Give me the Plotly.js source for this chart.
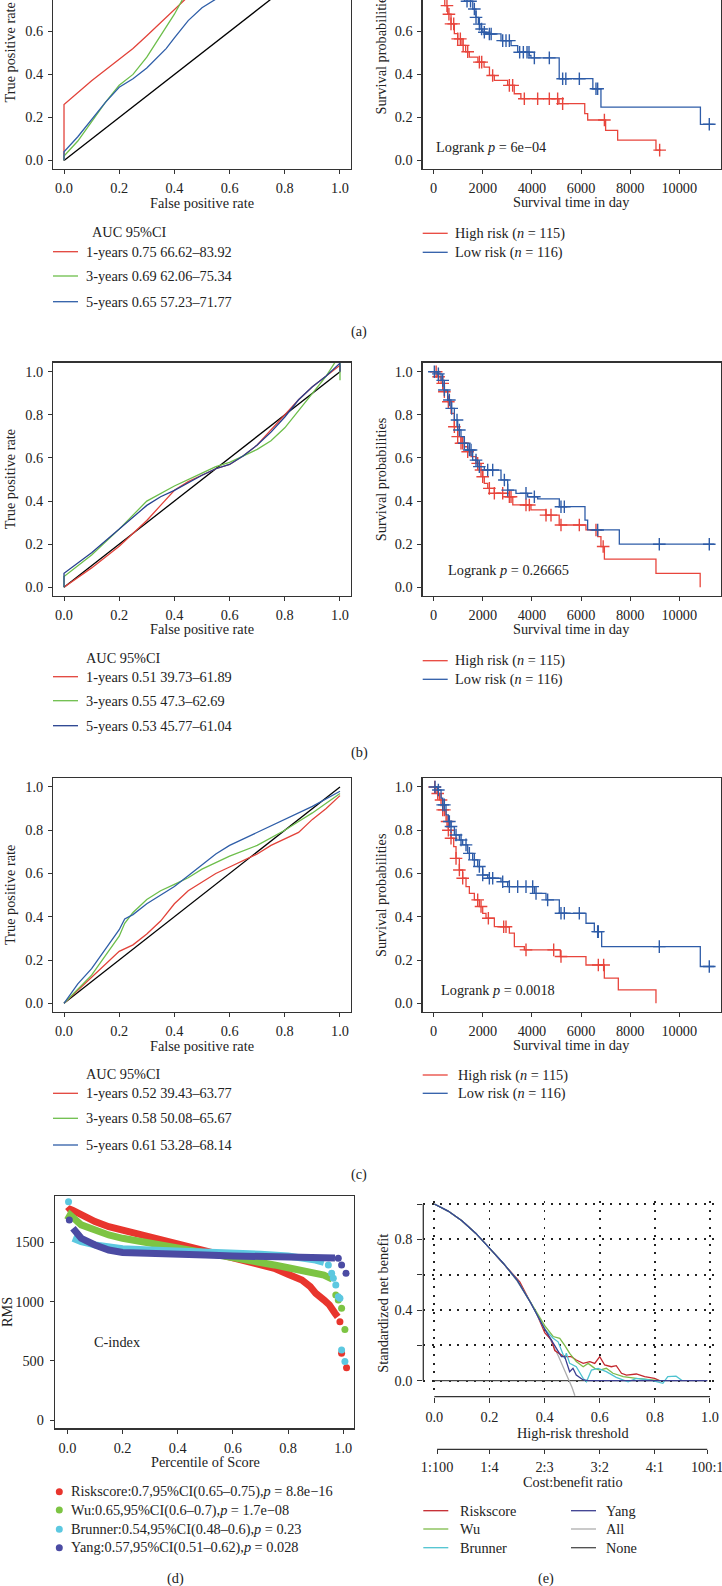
<!DOCTYPE html>
<html><head><meta charset="utf-8">
<script src="https://cdn.plot.ly/plotly-3.0.1.min.js"></script>
<style>body{margin:0;background:#fff}#chart{width:722px;height:1586px}</style>
</head><body><div id="chart"></div><script>
// ---------------- DATA ----------------
const rocTickVals = [0,0.2,0.4,0.6,0.8,1.0];
const rocTickText = ['0.0','0.2','0.4','0.6','0.8','1.0'];
const rocDiagX = [0,1], rocDiagY = [0,1];
const rocLegendTitle = 'AUC 95%CI';

// (a) ROC
const rocA1_fpr = [0,0,0.1,0.2,0.25,0.3,0.35,0.4,0.44,0.5,0.6,0.7,0.8,0.9,1.0];
const rocA1_tpr = [0,0.26,0.37,0.47,0.52,0.58,0.64,0.70,0.75,0.79,0.85,0.90,0.94,0.97,1.0];
const rocA3_fpr = [0,0,0.05,0.1,0.15,0.2,0.25,0.3,0.35,0.4,0.43,0.5,0.6,0.7,0.8,0.9,1.0];
const rocA3_tpr = [0,0.02,0.09,0.18,0.27,0.35,0.40,0.48,0.58,0.68,0.75,0.82,0.88,0.92,0.95,0.98,1.0];
const rocA5_fpr = [0,0,0.05,0.1,0.15,0.2,0.25,0.3,0.33,0.37,0.4,0.45,0.5,0.55,0.6,0.7,0.8,0.9,1.0];
const rocA5_tpr = [0,0.04,0.11,0.19,0.27,0.34,0.38,0.43,0.47,0.52,0.57,0.65,0.71,0.75,0.79,0.85,0.91,0.96,1.0];
const rocA_names = ['1-years 0.75 66.62–83.92','3-years 0.69 62.06–75.34','5-years 0.65 57.23–71.77'];

// (b) ROC
const rocB1_fpr = [0,0.1,0.2,0.3,0.35,0.4,0.45,0.5,0.55,0.6,0.65,0.7,0.75,0.8,0.85,0.9,0.95,1.0,1.0];
const rocB1_tpr = [0,0.09,0.19,0.31,0.38,0.45,0.49,0.52,0.55,0.57,0.61,0.66,0.73,0.80,0.87,0.93,0.98,1.03,1.0];
const rocB3_fpr = [0,0,0.1,0.2,0.3,0.4,0.5,0.55,0.6,0.7,0.75,0.8,0.85,0.9,0.95,1.0,1.0];
const rocB3_tpr = [0,0.05,0.15,0.27,0.40,0.47,0.53,0.56,0.58,0.64,0.68,0.74,0.82,0.90,0.98,1.08,0.96];
const rocB5_fpr = [0,0,0.1,0.2,0.3,0.35,0.4,0.5,0.55,0.6,0.65,0.7,0.75,0.8,0.85,0.9,0.95,1.0,1.0];
const rocB5_tpr = [0,0.065,0.16,0.27,0.38,0.42,0.45,0.52,0.55,0.57,0.61,0.66,0.72,0.79,0.87,0.93,0.98,1.04,1.0];
const rocB_names = ['1-years 0.51 39.73–61.89','3-years 0.55 47.3–62.69','5-years 0.53 45.77–61.04'];

// (c) ROC
const rocC1_fpr = [0,0.1,0.17,0.2,0.25,0.3,0.35,0.4,0.45,0.5,0.55,0.6,0.7,0.75,0.8,0.85,0.9,0.95,1.0];
const rocC1_tpr = [0,0.12,0.20,0.24,0.27,0.32,0.38,0.46,0.52,0.56,0.60,0.63,0.69,0.73,0.76,0.79,0.85,0.90,0.96];
const rocC3_fpr = [0,0.1,0.15,0.2,0.22,0.25,0.3,0.35,0.4,0.45,0.5,0.55,0.6,0.7,0.8,0.85,0.9,1.0];
const rocC3_tpr = [0,0.13,0.22,0.31,0.37,0.42,0.48,0.52,0.55,0.58,0.62,0.65,0.68,0.73,0.80,0.84,0.88,0.97];
const rocC5_fpr = [0,0.05,0.1,0.15,0.2,0.22,0.25,0.3,0.35,0.4,0.45,0.5,0.55,0.6,0.7,0.8,0.9,1.0];
const rocC5_tpr = [0,0.09,0.16,0.25,0.34,0.39,0.41,0.46,0.50,0.54,0.59,0.64,0.69,0.73,0.79,0.85,0.91,0.98];
const rocC_names = ['1-years 0.52 39.43–63.77','3-years 0.58 50.08–65.67','5-years 0.61 53.28–68.14'];

// Kaplan-Meier
const kmTickVals = [0,2000,4000,6000,8000,10000];
const kmGroupNames = ['High risk (<i>n</i> = 115)','Low risk (<i>n</i> = 116)'];

const kmA_high_t = [0,60,120,180,240,300,360,450,570,705,840,977,1150,1300,1450,1800,2050,2270,2470,3010,3280,3550,5100,6150,6270,7000,7490,9050,9250];
const kmA_high_s = [1,0.98,0.95,0.91,0.86,0.80,0.76,0.72,0.68,0.635,0.59,0.565,0.535,0.505,0.48,0.457,0.434,0.395,0.372,0.349,0.31,0.287,0.264,0.218,0.188,0.14,0.094,0.048,0.048];
const kmA_high_cens = [540,620,705,815,977,1085,1200,1384,1860,1955,2400,3080,3215,3690,4233,4708,5047,5250,6950,9200];
const kmA_low_t = [0,100,200,300,400,500,600,700,800,900,1000,1100,1250,1590,1720,1820,1930,2000,2130,2740,3150,3420,3890,3960,5110,6480,6810,10860,11400];
const kmA_low_s = [1,0.99,0.97,0.95,0.93,0.91,0.89,0.86,0.84,0.81,0.79,0.77,0.74,0.704,0.665,0.634,0.611,0.596,0.588,0.557,0.534,0.503,0.488,0.477,0.38,0.333,0.248,0.168,0.168];
const kmA_low_cens = [1357,1500,1655,1723,1860,1950,2062,2266,2340,2809,2944,3080,3500,3650,3800,3880,4098,4708,5251,5380,5930,6608,6676,11221];
const kmA_p = 'Logrank <i>p</i> = 6e−04';

const kmB_high_t = [0,160,300,430,570,705,840,977,1110,1250,1380,1520,1720,1860,1995,2060,2200,2470,3010,3220,3960,4570,5110,6200,6680,6810,6950,9050,10850];
const kmB_high_s = [1,0.977,0.946,0.907,0.861,0.807,0.745,0.699,0.668,0.652,0.629,0.606,0.575,0.544,0.513,0.482,0.459,0.436,0.42,0.382,0.359,0.335,0.289,0.266,0.235,0.189,0.131,0.065,0.0];
const kmB_high_cens = [100,200,366,434,597,841,977,1112,1180,1384,1791,1927,1995,2266,2470,2809,3080,3148,3758,3894,4573,4776,5183,5929,6608,6900];
const kmB_low_t = [0,163,300,434,570,705,841,977,1112,1248,1384,1587,1791,2062,2740,3012,3350,3826,4233,5115,6160,6268,7558,11425];
const kmB_low_s = [1,0.99,0.96,0.915,0.869,0.83,0.776,0.73,0.699,0.668,0.637,0.59,0.56,0.544,0.498,0.451,0.436,0.42,0.41,0.374,0.312,0.266,0.2,0.2];
const kmB_low_cens = [27,190,366,434,638,733,950,1045,1248,1452,1520,1723,1859,2198,2402,2877,3012,3758,4098,5183,5319,6676,9186,11221];
const kmB_p = 'Logrank <i>p</i> = 0.26665';

const kmC_high_t = [0,95,231,366,502,597,705,814,909,1045,1180,1316,1452,1655,1859,1995,2130,2470,3080,3284,3690,5156,6200,6947,7517,9050];
const kmC_high_s = [1,0.97,0.94,0.894,0.84,0.80,0.763,0.724,0.67,0.616,0.578,0.539,0.508,0.478,0.447,0.416,0.393,0.354,0.324,0.262,0.247,0.216,0.177,0.116,0.062,0.0];
const kmC_high_cens = [40,163,299,366,434,543,597,705,909,1045,1180,1791,1927,2225,2849,2944,3758,4885,5183,6703,6920];
const kmC_low_t = [0,163,299,366,502,597,705,841,1045,1180,1384,1587,1791,1995,2198,2741,3012,4098,4573,5115,6201,6540,6839,10855,11425];
const kmC_low_s = [1,0.986,0.948,0.917,0.871,0.84,0.817,0.778,0.755,0.732,0.693,0.663,0.632,0.593,0.578,0.562,0.539,0.508,0.478,0.416,0.37,0.331,0.262,0.17,0.17];
const kmC_low_cens = [54,190,366,434,638,705,909,1113,1316,1452,1655,1859,1995,2266,2402,2809,3080,3419,3758,4030,4166,4640,5183,5319,5929,6676,6703,9186,11221];
const kmC_p = 'Logrank <i>p</i> = 0.0018';

// (d) RMS vs percentile of score
const rmsTickVals = [0,500,1000,1500];
const rmsNames = ['Riskscore:0.7,95%CI(0.65–0.75),<i>p</i> = 8.8e−16','Wu:0.65,95%CI(0.6–0.7),<i>p</i> = 1.7e−08','Brunner:0.54,95%CI(0.48–0.6),<i>p</i> = 0.23','Yang:0.57,95%CI(0.51–0.62),<i>p</i> = 0.028'];
const rmsRisk_pct = [0.0,0.01,0.02,0.05,0.1,0.15,0.2,0.25,0.3,0.35,0.4,0.45,0.5,0.55,0.6,0.65,0.7,0.75,0.8,0.85,0.88,0.9,0.93,0.95,0.97,0.98];
const rmsRisk_val = [1759,1779,1770,1731,1675,1632,1604,1576,1548,1520,1492,1458,1430,1393,1365,1337,1309,1281,1230,1182,1126,1070,1013,971,901,870];
const rmsRisk_tailPct = [0.988,0.994,1.012];
const rmsRisk_tailVal = [830,563,442];
const rmsWu_pct = [0.0,0.01,0.05,0.1,0.15,0.2,0.25,0.3,0.35,0.4,0.45,0.5,0.55,0.6,0.65,0.7,0.75,0.8,0.85,0.9,0.93,0.96];
const rmsWu_val = [1689,1731,1647,1604,1562,1534,1514,1492,1469,1449,1435,1421,1402,1379,1357,1328,1309,1285,1262,1238,1224,1190];
const rmsWu_tailPct = [0.973,0.982,0.994,1.006];
const rmsWu_tailVal = [1055,1013,943,765];
const rmsBr_pct = [0.02,0.05,0.1,0.15,0.2,0.3,0.4,0.5,0.6,0.7,0.8,0.85,0.9,0.93];
const rmsBr_val = [1534,1506,1478,1455,1445,1435,1428,1420,1410,1400,1385,1370,1350,1330];
const rmsBr_tailPct = [0.004,0.946,0.958,0.964,0.973,0.982,0.988,0.994,1.006];
const rmsBr_tailVal = [1843,1309,1238,1196,1140,1041,1027,591,493];
const rmsYa_pct = [0.02,0.05,0.1,0.15,0.2,0.3,0.4,0.5,0.6,0.7,0.8,0.9,0.95,0.97];
const rmsYa_val = [1618,1534,1478,1435,1415,1403,1397,1392,1385,1380,1377,1375,1373,1368];
const rmsYa_tailPct = [0.007,0.982,0.994,1.01];
const rmsYa_tailVal = [1689,1365,1309,1238];

// (e) decision curve
const dcaTickVals = [0,0.2,0.4,0.6,0.8,1.0];
const dcaYTickText = ['0.0','','0.4','','0.8',''];
const cbTickVals = [0.01,0.2,0.4,0.6,0.8,0.99];
const cbTickText = ['1:100','1:4','2:3','3:2','4:1','100:1'];
const dcaNames = ['Riskscore','Wu','Brunner','Yang','All','None'];
const dcaRisk_thr = [0,0.05,0.1,0.15,0.2,0.25,0.3,0.31,0.35,0.371,0.401,0.425,0.437,0.462,0.479,0.497,0.515,0.54,0.564,0.582,0.6,0.618,0.642,0.66,0.679,0.697,0.733,0.763,0.799,0.817];
const dcaRisk_nb  = [1,0.96,0.905,0.835,0.75,0.665,0.58,0.56,0.44,0.38,0.27,0.23,0.17,0.145,0.136,0.136,0.117,0.098,0.108,0.098,0.136,0.089,0.079,0.085,0.042,0.032,0.038,0.023,0.013,0];
const dcaWu_thr = [0,0.05,0.1,0.15,0.2,0.25,0.3,0.35,0.401,0.431,0.455,0.473,0.491,0.515,0.54,0.558,0.582,0.6,0.624,0.648,0.685,0.733,0.781,0.817];
const dcaWu_nb  = [1,0.96,0.905,0.835,0.75,0.665,0.57,0.44,0.31,0.25,0.24,0.20,0.155,0.108,0.079,0.098,0.07,0.06,0.07,0.042,0.023,0.013,0.008,0];
const dcaBr_thr = [0,0.05,0.1,0.15,0.2,0.25,0.3,0.35,0.401,0.431,0.449,0.461,0.473,0.479,0.491,0.515,0.54,0.552,0.57,0.594,0.624,0.66,0.703,0.733,0.781,0.829,0.847,0.877,0.895,0.9];
const dcaBr_nb  = [1,0.96,0.905,0.835,0.75,0.665,0.57,0.44,0.29,0.24,0.22,0.17,0.126,0.155,0.098,0.079,0.013,-0.006,0.06,0.07,0.051,0.019,-0.006,0.013,0.004,-0.015,0.023,0.026,0.004,0];
const dcaYa_thr = [0,0.05,0.1,0.15,0.2,0.25,0.3,0.35,0.401,0.443,0.461,0.473,0.491,0.503,0.515,0.54,0.558,0.99];
const dcaYa_nb  = [1,0.96,0.905,0.835,0.75,0.665,0.57,0.44,0.29,0.18,0.136,0.136,0.051,0.07,0.032,0.004,0,0];
const dcaAll_thr = [0,0.05,0.1,0.15,0.2,0.25,0.3,0.35,0.4,0.45,0.5,0.51];
const dcaAll_nb  = [1,0.96,0.905,0.835,0.75,0.665,0.565,0.44,0.30,0.14,-0.04,-0.085];
const dcaNone_thr = [0,0.99];
const dcaNone_nb  = [0,0];

// ---------------- LAYOUT HELPERS ----------------
const W = 722, H = 1586;
const FF = '"Liberation Serif","Times New Roman",serif';
const FS = 14.3;
const FONT = {family: FF, size: FS, color: '#222'};
const dx = (a, b) => [a / W, Math.min(1, b / W)];
const dy = (t, b) => [1 - b / H, Math.min(1, 1 - t / H)];
const px = v => v / W, py = v => 1 - v / H;

function ax(o) {
  return Object.assign({
    showgrid: false, zeroline: false, showline: true, linecolor: '#333', linewidth: 1.3,
    ticks: 'outside', ticklen: 4, tickwidth: 1, tickcolor: '#333', tickfont: FONT,
    fixedrange: true, mirror: true, ticklabelstandoff: 2, ticklabeloverflow: 'allow'
  }, o);
}

const RED = '#E2433A', GREEN = '#6DBE4B', BLUE = '#2F5EA8', NAVY = '#26418F';
const KRED = '#E8453C', KBLUE = '#2E5CA8';
const RMS_COLORS = ['#E8352D', '#7DC443', '#5CC8E0', '#4B4BA3'];
const DCA_COLORS = ['#C4282E', '#7DBB4A', '#4EC3D0', '#3B3E90', '#AEAEAE', '#4A4A4A'];

const traces = [];
function roc(curves, colors, xa, ya) {
  traces.push({x: rocDiagX, y: rocDiagY, mode: 'lines', line: {color: '#000', width: 1.3}, xaxis: xa, yaxis: ya});
  curves.forEach((c, i) => traces.push({x: c[0], y: c[1], mode: 'lines', line: {color: colors[i], width: 1.3}, xaxis: xa, yaxis: ya}));
}
function stepAt(ts, ss, t) { let v = ss[0]; for (let i = 0; i < ts.length; i++) if (ts[i] <= t) v = ss[i]; return v; }
function km(ts, ss, cens, color, xa, ya) {
  traces.push({x: ts, y: ss, mode: 'lines', line: {shape: 'hv', color: color, width: 1.3}, xaxis: xa, yaxis: ya});
  traces.push({x: cens, y: cens.map(t => stepAt(ts, ss, t)), mode: 'markers', xaxis: xa, yaxis: ya,
    marker: {symbol: 'cross-thin', size: 9, color: color, line: {width: 1.4, color: color}}});
}

roc([[rocA1_fpr, rocA1_tpr], [rocA3_fpr, rocA3_tpr], [rocA5_fpr, rocA5_tpr]], [RED, GREEN, BLUE], 'x', 'y');
km(kmA_high_t, kmA_high_s, kmA_high_cens, KRED, 'x2', 'y2');
km(kmA_low_t, kmA_low_s, kmA_low_cens, KBLUE, 'x2', 'y2');
roc([[rocB1_fpr, rocB1_tpr], [rocB3_fpr, rocB3_tpr], [rocB5_fpr, rocB5_tpr]], [RED, GREEN, NAVY], 'x3', 'y3');
km(kmB_high_t, kmB_high_s, kmB_high_cens, KRED, 'x4', 'y4');
km(kmB_low_t, kmB_low_s, kmB_low_cens, KBLUE, 'x4', 'y4');
roc([[rocC1_fpr, rocC1_tpr], [rocC3_fpr, rocC3_tpr], [rocC5_fpr, rocC5_tpr]], [RED, GREEN, BLUE], 'x5', 'y5');
km(kmC_high_t, kmC_high_s, kmC_high_cens, KRED, 'x6', 'y6');
km(kmC_low_t, kmC_low_s, kmC_low_cens, KBLUE, 'x6', 'y6');

// (d)
const rmsSeries = [
  [rmsRisk_pct, rmsRisk_val, rmsRisk_tailPct, rmsRisk_tailVal],
  [rmsWu_pct, rmsWu_val, rmsWu_tailPct, rmsWu_tailVal],
  [rmsBr_pct, rmsBr_val, rmsBr_tailPct, rmsBr_tailVal],
  [rmsYa_pct, rmsYa_val, rmsYa_tailPct, rmsYa_tailVal]
];
rmsSeries.forEach((s, i) => {
  traces.push({x: s[0], y: s[1], mode: 'lines', line: {color: RMS_COLORS[i], width: 7}, xaxis: 'x7', yaxis: 'y7'});
  traces.push({x: s[2], y: s[3], mode: 'markers', marker: {color: RMS_COLORS[i], size: 7}, xaxis: 'x7', yaxis: 'y7'});
});

// (e) drawn None, All, then models, Yang last
const dcaSeries = [[dcaRisk_thr, dcaRisk_nb], [dcaWu_thr, dcaWu_nb], [dcaBr_thr, dcaBr_nb], [dcaYa_thr, dcaYa_nb], [dcaAll_thr, dcaAll_nb], [dcaNone_thr, dcaNone_nb]];
[5, 4, 0, 1, 2, 3].forEach(i => traces.push({x: dcaSeries[i][0], y: dcaSeries[i][1], mode: 'lines', line: {color: DCA_COLORS[i], width: 1.3}, xaxis: 'x8', yaxis: 'y8'}));
traces.push({x: [], y: [], xaxis: 'x9', yaxis: 'y8', mode: 'lines'});
traces.forEach(t => { t.showlegend = false; t.hoverinfo = 'skip'; });

// ---------------- AXES ----------------
const rocX = [-0.0388, 1.0399];
const kmX = [-448, 11698];
const layout = {
  width: W, height: H, margin: {l: 0, r: 0, t: 0, b: 0}, paper_bgcolor: '#fff', plot_bgcolor: 'rgba(0,0,0,0)',
  font: FONT, showlegend: false, hovermode: false,
  xaxis:  ax({domain: dx(53.3, 351), range: rocX, tickvals: rocTickVals, ticktext: rocTickText, anchor: 'y', mirror: false}),
  yaxis:  ax({domain: dy(0, 169), range: [-0.04, 0.746], tickvals: rocTickVals, ticktext: rocTickText, anchor: 'x'}),
  xaxis2: ax({domain: dx(422.7, 721), range: kmX, tickvals: kmTickVals, tickformat: 'd', anchor: 'y2', mirror: false}),
  yaxis2: ax({domain: dy(0, 169), range: [-0.04, 0.746], tickvals: rocTickVals, ticktext: rocTickText, anchor: 'x2'}),
  xaxis3: ax({domain: dx(53.3, 351), range: rocX, tickvals: rocTickVals, ticktext: rocTickText, anchor: 'y3'}),
  yaxis3: ax({domain: dy(362.7, 595.7), range: [-0.039, 1.042], tickvals: rocTickVals, ticktext: rocTickText, anchor: 'x3'}),
  xaxis4: ax({domain: dx(422.7, 721), range: kmX, tickvals: kmTickVals, tickformat: 'd', anchor: 'y4'}),
  yaxis4: ax({domain: dy(362.7, 595.7), range: [-0.039, 1.042], tickvals: rocTickVals, ticktext: rocTickText, anchor: 'x4'}),
  xaxis5: ax({domain: dx(53.3, 351), range: rocX, tickvals: rocTickVals, ticktext: rocTickText, anchor: 'y5'}),
  yaxis5: ax({domain: dy(778.3, 1011.7), range: [-0.039, 1.040], tickvals: rocTickVals, ticktext: rocTickText, anchor: 'x5'}),
  xaxis6: ax({domain: dx(422.7, 721), range: kmX, tickvals: kmTickVals, tickformat: 'd', anchor: 'y6'}),
  yaxis6: ax({domain: dy(778.3, 1011.7), range: [-0.039, 1.040], tickvals: rocTickVals, ticktext: rocTickText, anchor: 'x6'}),
  xaxis7: ax({domain: dx(55, 354), range: [-0.045, 1.039], tickvals: rocTickVals, ticktext: rocTickText, anchor: 'y7'}),
  yaxis7: ax({domain: dy(1196, 1428.3), range: [-70, 1891], tickvals: rmsTickVals, anchor: 'x7', ticklabelstandoff: 3}),
  xaxis8: ax({domain: dx(423.3, 721), range: [-0.04, 1.04], tickvals: dcaTickVals, ticktext: rocTickText, anchor: 'y8', showline: false, mirror: false,
    ticklen: 5, ticklabelstandoff: 2, showgrid: true, griddash: '2px,6.5px', gridcolor: '#222', gridwidth: 1.8}),
  yaxis8: ax({domain: dy(1201, 1396.7), range: [-0.0906, 1.017], tickvals: dcaTickVals, ticktext: dcaYTickText, anchor: 'x8', showline: false, mirror: false,
    ticklen: 5, showgrid: true, griddash: '2px,6.5px', gridcolor: '#222', gridwidth: 1.8}),
  xaxis9: ax({overlaying: 'x8', anchor: 'free', position: py(1449.3), range: [-0.04, 1.04], tickvals: cbTickVals, ticktext: cbTickText,
    showline: false, mirror: false, side: 'bottom', ticklen: 4, ticklabelstandoff: 1}),
  shapes: [
    {type: 'line', xref: 'x8', yref: 'y8 domain', x0: 0, x1: 1, y0: 0, y1: 0, line: {color: '#333', width: 1.3}},
    {type: 'line', xref: 'x8 domain', yref: 'y8', x0: 0, x1: 0, y0: 0, y1: 1, line: {color: '#333', width: 1.3}},
    {type: 'line', xref: 'x8', yref: 'paper', x0: 0.01, x1: 0.99, y0: py(1449.3), y1: py(1449.3), line: {color: '#333', width: 1.3}}
  ],
  annotations: []
};

function ann(text, x, y, opts) {
  layout.annotations.push(Object.assign({text: text, x: px(x), y: py(y), xref: 'paper', yref: 'paper', showarrow: false, font: FONT, xanchor: 'center', yanchor: 'middle'}, opts || {}));
}
// legend keys (paper-positioned)
function keyLine(x0, x1, y, color) {
  layout.shapes.push({type: 'line', xref: 'paper', yref: 'paper', x0: px(x0), x1: px(x1), y0: py(y), y1: py(y), line: {color: color, width: 1.3}});
}
function keyDot(x, y, color) {
  layout.shapes.push({type: 'circle', xref: 'paper', yref: 'paper', x0: px(x - 3.5), x1: px(x + 3.5), y0: py(y + 3.5), y1: py(y - 3.5), fillcolor: color, line: {width: 0}});
}
function legendBlock(names, colors, rowsY, lineX0, lineX1, textX) {
  names.forEach((n, i) => { keyLine(lineX0, lineX1, rowsY[i], colors[i]); ann(n, textX, rowsY[i], {xanchor: 'left'}); });
}
ann(rocLegendTitle, 90, 232.3, {xanchor: 'left'});
legendBlock(rocA_names, [RED, GREEN, BLUE], [251.7, 276, 301.7], 53, 78, 84);
ann(rocLegendTitle, 84, 658, {xanchor: 'left'});
legendBlock(rocB_names, [RED, GREEN, NAVY], [676.7, 700.7, 725.7], 53, 78, 84);
ann(rocLegendTitle, 84, 1074, {xanchor: 'left'});
legendBlock(rocC_names, [RED, GREEN, BLUE], [1093.3, 1118.3, 1145], 53, 78, 84);
legendBlock(kmGroupNames, [KRED, KBLUE], [233.3, 252.3], 422.7, 447.7, 452.7);
legendBlock(kmGroupNames, [KRED, KBLUE], [660.7, 679.3], 422.7, 447.7, 452.7);
legendBlock(kmGroupNames, [KRED, KBLUE], [1075, 1093.3], 422.7, 447.7, 456);
const dLegY = [1491.7, 1510, 1529.3, 1547.7];
rmsNames.forEach((n, i) => { keyDot(59.3, dLegY[i], RMS_COLORS[i]); ann(n, 69, dLegY[i], {xanchor: 'left'}); });
const eLegY = [1510.7, 1529, 1547.7];
legendBlock(dcaNames.slice(0, 3), DCA_COLORS.slice(0, 3), eLegY, 423.3, 448.3, 457.7);
legendBlock(dcaNames.slice(3, 6), DCA_COLORS.slice(3, 6), eLegY, 571, 596, 604.3);

// axis titles and labels
ann('True positive rate', 10, 52.5, {textangle: -90});
ann('True positive rate', 10, 479.2, {textangle: -90});
ann('True positive rate', 10, 895, {textangle: -90});
ann('Survival probabilities', 381, 52.5, {textangle: -90});
ann('Survival probabilities', 381, 479.2, {textangle: -90});
ann('Survival probabilities', 381, 895, {textangle: -90});
ann('False positive rate', 202, 203.3);
ann('False positive rate', 202, 629);
ann('False positive rate', 202, 1046);
ann('Survival time in day', 571.5, 202.3);
ann('Survival time in day', 571.5, 629.3);
ann('Survival time in day', 571.5, 1045);
ann(kmA_p, 434.3, 146.7, {xanchor: 'left'});
ann(kmB_p, 446, 570, {xanchor: 'left'});
ann(kmC_p, 438.7, 990, {xanchor: 'left'});
ann('RMS', 7, 1312, {textangle: -90});
ann('C-index', 91.7, 1341.7, {xanchor: 'left'});
ann('Percentile of Score', 205, 1461.7);
ann('Standardized net benefit', 382.7, 1303, {textangle: -90});
ann('High-risk threshold', 572.7, 1433.3);
ann('Cost:benefit ratio', 572.7, 1481.7);
ann('(a)', 359, 331);
ann('(b)', 359, 753);
ann('(c)', 359, 1174);
ann('(d)', 175, 1578);
ann('(e)', 546, 1578);

Plotly.newPlot('chart', traces, layout, {staticPlot: true, displayModeBar: false});
</script></body></html>
